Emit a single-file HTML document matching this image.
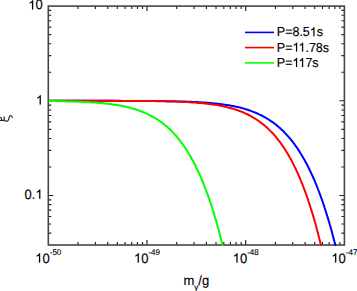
<!DOCTYPE html>
<html><head><meta charset="utf-8"><style>
html,body{margin:0;padding:0;background:#fff;}
body{width:357px;height:291px;overflow:hidden;position:relative;font-family:"Liberation Sans",sans-serif;}
svg{position:absolute;left:0;top:0;}
text{font-family:"Liberation Sans",sans-serif;text-rendering:geometricPrecision;fill:#000;stroke:#000;stroke-width:0.15px;paint-order:stroke;}
.h{fill:none;stroke:none;}
.cv polyline{fill:none;stroke-width:2;stroke-linejoin:round;}
</style></head><body>
<svg width="357" height="291" viewBox="0 0 357 291">
<defs><clipPath id="c"><rect x="48.3" y="6.1" width="296.10" height="239.70"/></clipPath>
<path id="one" d="M763 0H583V1147Q518 1085 412.5 1023T223 930V1104Q373 1174 485.5 1274T645 1466H763V0Z"/></defs>
<path d="M78.01 245.00v-3M78.01 6.10v3M95.39 245.00v-3M95.39 6.10v3M107.72 245.00v-3M107.72 6.10v3M117.29 245.00v-3M117.29 6.10v3M125.10 245.00v-3M125.10 6.10v3M131.71 245.00v-3M131.71 6.10v3M137.43 245.00v-3M137.43 6.10v3M142.48 245.00v-3M142.48 6.10v3M147.00 245.00v-5M147.00 6.10v5M176.71 245.00v-3M176.71 6.10v3M194.09 245.00v-3M194.09 6.10v3M206.42 245.00v-3M206.42 6.10v3M215.99 245.00v-3M215.99 6.10v3M223.80 245.00v-3M223.80 6.10v3M230.41 245.00v-3M230.41 6.10v3M236.13 245.00v-3M236.13 6.10v3M241.18 245.00v-3M241.18 6.10v3M245.70 245.00v-5M245.70 6.10v5M275.41 245.00v-3M275.41 6.10v3M292.79 245.00v-3M292.79 6.10v3M305.12 245.00v-3M305.12 6.10v3M314.69 245.00v-3M314.69 6.10v3M322.50 245.00v-3M322.50 6.10v3M329.11 245.00v-3M329.11 6.10v3M334.83 245.00v-3M334.83 6.10v3M339.88 245.00v-3M339.88 6.10v3M48.30 100.79h5M344.40 100.79h-5M48.30 72.29h3M344.40 72.29h-3M48.30 55.61h3M344.40 55.61h-3M48.30 43.78h3M344.40 43.78h-3M48.30 34.61h3M344.40 34.61h-3M48.30 27.11h3M344.40 27.11h-3M48.30 20.77h3M344.40 20.77h-3M48.30 15.28h3M344.40 15.28h-3M48.30 10.43h3M344.40 10.43h-3M48.30 195.49h5M344.40 195.49h-5M48.30 166.98h3M344.40 166.98h-3M48.30 150.31h3M344.40 150.31h-3M48.30 138.48h3M344.40 138.48h-3M48.30 129.30h3M344.40 129.30h-3M48.30 121.80h3M344.40 121.80h-3M48.30 115.46h3M344.40 115.46h-3M48.30 109.97h3M344.40 109.97h-3M48.30 105.13h3M344.40 105.13h-3M48.30 233.17h3M344.40 233.17h-3M48.30 223.99h3M344.40 223.99h-3M48.30 216.49h3M344.40 216.49h-3M48.30 210.16h3M344.40 210.16h-3M48.30 204.66h3M344.40 204.66h-3M48.30 199.82h3M344.40 199.82h-3" stroke="#222" stroke-width="1.15" fill="none"/>
<rect x="48.3" y="6.1" width="296.10" height="238.90" fill="none" stroke="#444" stroke-width="1.6"/>
<g class="cv" clip-path="url(#c)">
<polyline points="48.3,100.8 49.3,100.8 50.3,100.8 51.3,100.8 52.3,100.8 53.2,100.8 54.2,100.8 55.2,100.8 56.2,100.8 57.2,100.8 58.2,100.8 59.2,100.8 60.2,100.8 61.1,100.8 62.1,100.8 63.1,100.8 64.1,100.8 65.1,100.8 66.1,100.8 67.1,100.8 68.1,100.8 69.0,100.8 70.0,100.8 71.0,100.8 72.0,100.8 73.0,100.8 74.0,100.8 75.0,100.8 76.0,100.8 76.9,100.8 77.9,100.8 78.9,100.8 79.9,100.8 80.9,100.8 81.9,100.8 82.9,100.8 83.9,100.8 84.8,100.8 85.8,100.8 86.8,100.8 87.8,100.8 88.8,100.8 89.8,100.8 90.8,100.8 91.8,100.8 92.7,100.8 93.7,100.8 94.7,100.8 95.7,100.8 96.7,100.8 97.7,100.8 98.7,100.8 99.7,100.8 100.6,100.8 101.6,100.8 102.6,100.8 103.6,100.8 104.6,100.8 105.6,100.8 106.6,100.8 107.6,100.8 108.5,100.8 109.5,100.8 110.5,100.8 111.5,100.8 112.5,100.8 113.5,100.8 114.5,100.8 115.5,100.8 116.4,100.8 117.4,100.8 118.4,100.8 119.4,100.8 120.4,100.8 121.4,100.9 122.4,100.9 123.4,100.9 124.3,100.9 125.3,100.9 126.3,100.9 127.3,100.9 128.3,100.9 129.3,100.9 130.3,100.9 131.3,100.9 132.3,100.9 133.2,100.9 134.2,100.9 135.2,100.9 136.2,100.9 137.2,100.9 138.2,100.9 139.2,100.9 140.2,100.9 141.1,100.9 142.1,100.9 143.1,100.9 144.1,100.9 145.1,101.0 146.1,101.0 147.1,101.0 148.1,101.0 149.0,101.0 150.0,101.0 151.0,101.0 152.0,101.0 153.0,101.0 154.0,101.0 155.0,101.0 156.0,101.0 156.9,101.1 157.9,101.1 158.9,101.1 159.9,101.1 160.9,101.1 161.9,101.1 162.9,101.1 163.9,101.1 164.8,101.1 165.8,101.2 166.8,101.2 167.8,101.2 168.8,101.2 169.8,101.2 170.8,101.2 171.8,101.3 172.7,101.3 173.7,101.3 174.7,101.3 175.7,101.4 176.7,101.4 177.7,101.4 178.7,101.4 179.7,101.4 180.6,101.5 181.6,101.5 182.6,101.5 183.6,101.6 184.6,101.6 185.6,101.6 186.6,101.7 187.6,101.7 188.5,101.7 189.5,101.8 190.5,101.8 191.5,101.8 192.5,101.9 193.5,101.9 194.5,102.0 195.5,102.0 196.4,102.1 197.4,102.1 198.4,102.2 199.4,102.2 200.4,102.3 201.4,102.4 202.4,102.4 203.4,102.5 204.4,102.5 205.3,102.6 206.3,102.7 207.3,102.8 208.3,102.8 209.3,102.9 210.3,103.0 211.3,103.1 212.3,103.2 213.2,103.3 214.2,103.4 215.2,103.5 216.2,103.6 217.2,103.7 218.2,103.8 219.2,103.9 220.2,104.0 221.1,104.2 222.1,104.3 223.1,104.4 224.1,104.6 225.1,104.7 226.1,104.9 227.1,105.0 228.1,105.2 229.0,105.3 230.0,105.5 231.0,105.7 232.0,105.9 233.0,106.1 234.0,106.3 235.0,106.5 236.0,106.7 236.9,106.9 237.9,107.1 238.9,107.3 239.9,107.6 240.9,107.8 241.9,108.1 242.9,108.4 243.9,108.6 244.8,108.9 245.8,109.2 246.8,109.5 247.8,109.8 248.8,110.2 249.8,110.5 250.8,110.9 251.8,111.2 252.7,111.6 253.7,112.0 254.7,112.4 255.7,112.8 256.7,113.2 257.7,113.6 258.7,114.1 259.7,114.6 260.6,115.0 261.6,115.5 262.6,116.0 263.6,116.6 264.6,117.1 265.6,117.7 266.6,118.3 267.6,118.8 268.5,119.5 269.5,120.1 270.5,120.8 271.5,121.4 272.5,122.1 273.5,122.8 274.5,123.6 275.5,124.3 276.4,125.1 277.4,125.9 278.4,126.8 279.4,127.6 280.4,128.5 281.4,129.4 282.4,130.3 283.4,131.3 284.4,132.3 285.1,133.1 285.9,133.9 286.7,134.8 287.5,135.7 288.3,136.5 289.1,137.5 289.9,138.4 290.7,139.3 291.5,140.3 292.3,141.3 293.0,142.3 293.8,143.4 294.6,144.4 295.2,145.3 295.8,146.1 296.4,146.9 297.0,147.8 297.6,148.7 298.2,149.5 298.8,150.4 299.4,151.4 300.0,152.3 300.5,153.2 301.1,154.2 301.7,155.2 302.3,156.2 302.9,157.2 303.5,158.2 304.1,159.3 304.7,160.3 305.3,161.4 305.9,162.5 306.5,163.6 307.1,164.7 307.7,165.9 308.3,167.0 308.8,168.2 309.2,169.0 309.6,169.8 310.0,170.7 310.4,171.5 310.8,172.3 311.2,173.2 311.6,174.0 312.0,174.9 312.4,175.7 312.8,176.6 313.2,177.5 313.6,178.4 314.0,179.3 314.4,180.2 314.8,181.2 315.2,182.1 315.6,183.1 316.0,184.0 316.4,185.0 316.7,186.0 317.1,186.9 317.5,187.9 317.9,189.0 318.3,190.0 318.7,191.0 319.1,192.0 319.5,193.1 319.9,194.2 320.3,195.2 320.7,196.3 321.1,197.4 321.5,198.5 321.9,199.6 322.3,200.7 322.7,201.9 323.1,203.0 323.5,204.2 323.9,205.4 324.3,206.6 324.6,207.8 325.0,209.0 325.4,210.2 325.8,211.4 326.2,212.7 326.6,213.9 327.0,215.2 327.4,216.5 327.8,217.8 328.2,219.1 328.6,220.4 329.0,221.8 329.4,223.1 329.8,224.5 330.2,225.9 330.6,227.3 331.0,228.7 331.4,230.1 331.8,231.5 332.2,233.0 332.5,234.4 332.9,235.9 333.3,237.4 333.7,238.9 334.1,240.5 334.5,242.0 334.9,243.5 335.3,245.1 335.7,246.7 336.1,248.3" stroke="#0000ff"/>
<polyline points="48.3,100.8 49.3,100.8 50.3,100.8 51.3,100.8 52.3,100.8 53.2,100.8 54.2,100.8 55.2,100.8 56.2,100.8 57.2,100.8 58.2,100.8 59.2,100.8 60.2,100.8 61.1,100.8 62.1,100.8 63.1,100.8 64.1,100.8 65.1,100.8 66.1,100.8 67.1,100.8 68.1,100.8 69.0,100.8 70.0,100.8 71.0,100.8 72.0,100.8 73.0,100.8 74.0,100.8 75.0,100.8 76.0,100.8 76.9,100.8 77.9,100.8 78.9,100.8 79.9,100.8 80.9,100.8 81.9,100.8 82.9,100.8 83.9,100.8 84.8,100.8 85.8,100.8 86.8,100.8 87.8,100.8 88.8,100.8 89.8,100.8 90.8,100.8 91.8,100.8 92.7,100.8 93.7,100.8 94.7,100.8 95.7,100.8 96.7,100.8 97.7,100.8 98.7,100.8 99.7,100.8 100.6,100.8 101.6,100.8 102.6,100.8 103.6,100.8 104.6,100.8 105.6,100.8 106.6,100.8 107.6,100.8 108.5,100.8 109.5,100.8 110.5,100.8 111.5,100.8 112.5,100.8 113.5,100.8 114.5,100.9 115.5,100.9 116.4,100.9 117.4,100.9 118.4,100.9 119.4,100.9 120.4,100.9 121.4,100.9 122.4,100.9 123.4,100.9 124.3,100.9 125.3,100.9 126.3,100.9 127.3,100.9 128.3,100.9 129.3,100.9 130.3,100.9 131.3,100.9 132.3,100.9 133.2,100.9 134.2,100.9 135.2,100.9 136.2,100.9 137.2,101.0 138.2,101.0 139.2,101.0 140.2,101.0 141.1,101.0 142.1,101.0 143.1,101.0 144.1,101.0 145.1,101.0 146.1,101.0 147.1,101.0 148.1,101.0 149.0,101.1 150.0,101.1 151.0,101.1 152.0,101.1 153.0,101.1 154.0,101.1 155.0,101.1 156.0,101.1 156.9,101.2 157.9,101.2 158.9,101.2 159.9,101.2 160.9,101.2 161.9,101.2 162.9,101.3 163.9,101.3 164.8,101.3 165.8,101.3 166.8,101.4 167.8,101.4 168.8,101.4 169.8,101.4 170.8,101.5 171.8,101.5 172.7,101.5 173.7,101.5 174.7,101.6 175.7,101.6 176.7,101.6 177.7,101.7 178.7,101.7 179.7,101.7 180.6,101.8 181.6,101.8 182.6,101.9 183.6,101.9 184.6,102.0 185.6,102.0 186.6,102.1 187.6,102.1 188.5,102.2 189.5,102.2 190.5,102.3 191.5,102.4 192.5,102.4 193.5,102.5 194.5,102.6 195.5,102.6 196.4,102.7 197.4,102.8 198.4,102.9 199.4,102.9 200.4,103.0 201.4,103.1 202.4,103.2 203.4,103.3 204.4,103.4 205.3,103.5 206.3,103.6 207.3,103.7 208.3,103.9 209.3,104.0 210.3,104.1 211.3,104.2 212.3,104.4 213.2,104.5 214.2,104.7 215.2,104.8 216.2,105.0 217.2,105.1 218.2,105.3 219.2,105.5 220.2,105.7 221.1,105.9 222.1,106.1 223.1,106.3 224.1,106.5 225.1,106.7 226.1,106.9 227.1,107.2 228.1,107.4 229.0,107.7 230.0,107.9 231.0,108.2 232.0,108.5 233.0,108.8 234.0,109.1 235.0,109.4 236.0,109.7 236.9,110.0 237.9,110.4 238.9,110.7 239.9,111.1 240.9,111.5 241.9,111.9 242.9,112.3 243.9,112.7 244.8,113.1 245.8,113.6 246.8,114.0 247.8,114.5 248.8,115.0 249.8,115.5 250.8,116.1 251.8,116.6 252.7,117.2 253.7,117.8 254.7,118.4 255.7,119.0 256.7,119.6 257.7,120.3 258.7,121.0 259.7,121.7 260.6,122.4 261.6,123.2 262.6,123.9 263.6,124.7 264.6,125.5 265.6,126.4 266.6,127.3 267.6,128.2 268.5,129.1 269.5,130.1 270.5,131.1 271.3,131.9 272.1,132.7 272.9,133.5 273.7,134.4 274.5,135.3 275.3,136.2 276.1,137.2 276.8,138.1 277.6,139.1 278.4,140.1 279.2,141.1 280.0,142.2 280.6,143.0 281.2,143.8 281.8,144.6 282.4,145.5 283.0,146.4 283.6,147.2 284.2,148.1 284.7,149.0 285.3,150.0 285.9,150.9 286.5,151.9 287.1,152.8 287.7,153.8 288.3,154.8 288.9,155.8 289.5,156.9 290.1,157.9 290.7,159.0 291.3,160.1 291.9,161.2 292.4,162.4 293.0,163.5 293.6,164.7 294.2,165.9 294.6,166.7 295.0,167.5 295.4,168.3 295.8,169.1 296.2,170.0 296.6,170.8 297.0,171.7 297.4,172.5 297.8,173.4 298.2,174.3 298.6,175.2 299.0,176.1 299.4,177.0 299.8,177.9 300.2,178.9 300.5,179.8 300.9,180.8 301.3,181.8 301.7,182.7 302.1,183.7 302.5,184.7 302.9,185.7 303.3,186.7 303.7,187.8 304.1,188.8 304.5,189.9 304.9,190.9 305.3,192.0 305.7,193.1 306.1,194.2 306.5,195.3 306.9,196.4 307.3,197.6 307.7,198.7 308.1,199.9 308.4,201.0 308.8,202.2 309.2,203.4 309.6,204.6 310.0,205.8 310.4,207.1 310.8,208.3 311.2,209.6 311.6,210.9 312.0,212.1 312.4,213.4 312.8,214.8 313.2,216.1 313.6,217.4 314.0,218.8 314.4,220.2 314.8,221.5 315.2,222.9 315.6,224.3 316.0,225.8 316.4,227.2 316.7,228.7 317.1,230.1 317.5,231.6 317.9,233.1 318.3,234.7 318.7,236.2 319.1,237.7 319.5,239.3 319.9,240.9 320.3,242.5 320.5,243.3 320.7,244.1 320.9,244.9 321.1,245.7 321.3,246.5 321.5,247.4 321.7,248.2" stroke="#ff0000"/>
<polyline points="48.3,101.1 49.3,101.1 50.3,101.1 51.3,101.1 52.3,101.1 53.2,101.1 54.2,101.1 55.2,101.1 56.2,101.2 57.2,101.2 58.2,101.2 59.2,101.2 60.2,101.2 61.1,101.2 62.1,101.3 63.1,101.3 64.1,101.3 65.1,101.3 66.1,101.3 67.1,101.4 68.1,101.4 69.0,101.4 70.0,101.4 71.0,101.5 72.0,101.5 73.0,101.5 74.0,101.6 75.0,101.6 76.0,101.6 76.9,101.7 77.9,101.7 78.9,101.7 79.9,101.8 80.9,101.8 81.9,101.8 82.9,101.9 83.9,101.9 84.8,102.0 85.8,102.0 86.8,102.1 87.8,102.1 88.8,102.2 89.8,102.2 90.8,102.3 91.8,102.4 92.7,102.4 93.7,102.5 94.7,102.6 95.7,102.6 96.7,102.7 97.7,102.8 98.7,102.9 99.7,102.9 100.6,103.0 101.6,103.1 102.6,103.2 103.6,103.3 104.6,103.4 105.6,103.5 106.6,103.6 107.6,103.7 108.5,103.9 109.5,104.0 110.5,104.1 111.5,104.2 112.5,104.4 113.5,104.5 114.5,104.7 115.5,104.8 116.4,105.0 117.4,105.1 118.4,105.3 119.4,105.5 120.4,105.6 121.4,105.8 122.4,106.0 123.4,106.2 124.3,106.4 125.3,106.6 126.3,106.9 127.3,107.1 128.3,107.3 129.3,107.6 130.3,107.8 131.3,108.1 132.3,108.4 133.2,108.7 134.2,109.0 135.2,109.3 136.2,109.6 137.2,109.9 138.2,110.2 139.2,110.6 140.2,110.9 141.1,111.3 142.1,111.7 143.1,112.1 144.1,112.5 145.1,112.9 146.1,113.4 147.1,113.8 148.1,114.3 149.0,114.8 150.0,115.3 151.0,115.8 152.0,116.3 153.0,116.9 154.0,117.4 155.0,118.0 156.0,118.6 156.9,119.2 157.9,119.9 158.9,120.5 159.9,121.2 160.9,121.9 161.9,122.7 162.9,123.4 163.9,124.2 164.8,125.0 165.8,125.8 166.8,126.6 167.8,127.5 168.8,128.4 169.8,129.3 170.8,130.3 171.8,131.3 172.5,132.1 173.3,132.9 174.1,133.8 174.9,134.6 175.7,135.5 176.5,136.4 177.3,137.4 178.1,138.3 178.9,139.3 179.7,140.3 180.4,141.3 181.2,142.3 182.0,143.4 182.6,144.2 183.2,145.1 183.8,145.9 184.4,146.8 185.0,147.6 185.6,148.5 186.2,149.4 186.8,150.3 187.4,151.3 188.0,152.2 188.5,153.2 189.1,154.2 189.7,155.2 190.3,156.2 190.9,157.2 191.5,158.3 192.1,159.4 192.7,160.4 193.3,161.5 193.9,162.7 194.5,163.8 195.1,165.0 195.7,166.2 196.3,167.4 196.6,168.2 197.0,169.0 197.4,169.8 197.8,170.6 198.2,171.5 198.6,172.3 199.0,173.2 199.4,174.1 199.8,175.0 200.2,175.9 200.6,176.8 201.0,177.7 201.4,178.6 201.8,179.5 202.2,180.5 202.6,181.4 203.0,182.4 203.4,183.4 203.8,184.3 204.2,185.3 204.5,186.3 204.9,187.3 205.3,188.4 205.7,189.4 206.1,190.5 206.5,191.5 206.9,192.6 207.3,193.7 207.7,194.8 208.1,195.9 208.5,197.0 208.9,198.1 209.3,199.2 209.7,200.4 210.1,201.5 210.5,202.7 210.9,203.9 211.3,205.1 211.7,206.3 212.1,207.5 212.4,208.8 212.8,210.0 213.2,211.3 213.6,212.6 214.0,213.9 214.4,215.2 214.8,216.5 215.2,217.8 215.6,219.1 216.0,220.5 216.4,221.9 216.8,223.3 217.2,224.7 217.6,226.1 218.0,227.5 218.4,228.9 218.8,230.4 219.2,231.9 219.6,233.4 220.0,234.9 220.4,236.4 220.7,237.9 221.1,239.5 221.5,241.0 221.9,242.6 222.3,244.2 222.5,245.0 222.7,245.8 222.9,246.6 223.1,247.4 223.3,248.3" stroke="#00ff00"/>
</g>
<g font-size="13">
<text x="42.8" y="9.5" text-anchor="end" transform="matrix(1 0 0 1.04 0 -0.380)"><tspan class="h">1</tspan>0</text>
<text x="43.2" y="104.6" text-anchor="end" transform="matrix(1 0 0 1.04 0 -4.184)"><tspan class="h">1</tspan></text>
<text x="42.7" y="198.7" text-anchor="end" transform="matrix(1 0 0 1.04 0 -7.948)">0.<tspan class="h">1</tspan></text>
<text x="48.30" y="262.6" text-anchor="middle" transform="matrix(1 0 0 1.04 0 -10.504)"><tspan class="h">1</tspan>0<tspan dy="-7" font-size="8">-50</tspan></text>
<text x="147.00" y="262.6" text-anchor="middle" transform="matrix(1 0 0 1.04 0 -10.504)"><tspan class="h">1</tspan>0<tspan dy="-7" font-size="8">-49</tspan></text>
<text x="245.70" y="262.6" text-anchor="middle" transform="matrix(1 0 0 1.04 0 -10.504)"><tspan class="h">1</tspan>0<tspan dy="-7" font-size="8">-48</tspan></text>
<text x="344.40" y="262.6" text-anchor="middle" transform="matrix(1 0 0 1.04 0 -10.504)"><tspan class="h">1</tspan>0<tspan dy="-7" font-size="8">-47</tspan></text>
<text x="196.3" y="284.8" text-anchor="middle" transform="matrix(1 0 0 1.04 0 -11.392)">m<tspan dy="4.6" font-size="8">γ</tspan><tspan dy="-4.6">/g</tspan></text>
</g>
<g stroke-width="1.6">
<line x1="245" y1="32.4" x2="274" y2="32.4" stroke="#0000ff"/>
<line x1="245" y1="47.6" x2="274" y2="47.6" stroke="#ff0000"/>
<line x1="245" y1="62.9" x2="274" y2="62.9" stroke="#00ff00"/>
</g>
<g font-size="12.5">
<text x="276.8" y="36.3" transform="matrix(1 0 0 1.04 0 -1.452)">P=8.5<tspan class="h">1</tspan>s</text>
<text x="276.8" y="51.6" transform="matrix(1 0 0 1.04 0 -2.064)">P=<tspan class="h">1</tspan><tspan class="h">1</tspan>.78s</text>
<text x="276.8" y="66.9" transform="matrix(1 0 0 1.04 0 -2.676)">P=<tspan class="h">1</tspan><tspan class="h">1</tspan>7s</text>
</g>
<g fill="#000" stroke="#000" stroke-width="23.6"><use href="#one" transform="translate(28.33 9.50) scale(0.006348 -0.006348)"/><use href="#one" transform="translate(35.97 104.60) scale(0.006348 -0.006348)"/><use href="#one" transform="translate(35.47 198.70) scale(0.006348 -0.006348)"/><use href="#one" transform="translate(35.28 262.60) scale(0.006348 -0.006348)"/><use href="#one" transform="translate(133.98 262.60) scale(0.006348 -0.006348)"/><use href="#one" transform="translate(232.68 262.60) scale(0.006348 -0.006348)"/><use href="#one" transform="translate(331.38 262.60) scale(0.006348 -0.006348)"/><use href="#one" transform="translate(309.82 36.30) scale(0.006104 -0.006104)"/><use href="#one" transform="translate(292.44 51.60) scale(0.006104 -0.006104)"/><use href="#one" transform="translate(298.47 51.60) scale(0.006104 -0.006104)"/><use href="#one" transform="translate(292.44 66.90) scale(0.006104 -0.006104)"/><use href="#one" transform="translate(298.47 66.90) scale(0.006104 -0.006104)"/></g>
<path d="M0 117.5 Q1.9 117.3 1.6 119.1 M0 120.3 L4.2 120.3 M4.2 116.9 L4.2 120.3 Q5.5 121.7 7.8 120.9 Q8.8 120 9.2 117.2 Q9.7 115.3 10.6 115.5 Q11.8 115.8 12.3 117.7" fill="none" stroke="#222" stroke-width="1.15" stroke-linecap="round" stroke-linejoin="round"/>
</svg>
</body></html>
